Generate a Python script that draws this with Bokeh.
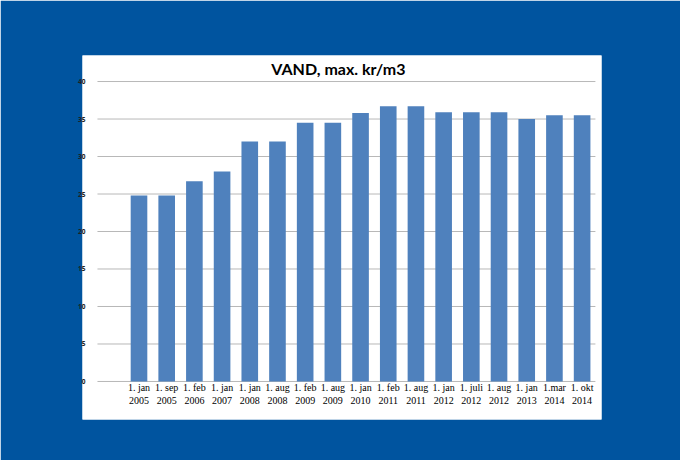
from bokeh.plotting import figure
from bokeh.models import FixedTicker, Range1d, Label
from bokeh.embed import file_html
from bokeh.resources import INLINE

title_text = "VAND, max. kr/m3"
dates = ["1. jan\n2005", "1. sep\n2005", "1. feb\n2006", "1. jan\n2007", "1. jan\n2008",
         "1. aug\n2008", "1. feb\n2009", "1. aug\n2009", "1. jan\n2010", "1. feb\n2011",
         "1. aug\n2011", "1. jan\n2012", "1. juli\n2012", "1. aug\n2012", "1. jan\n2013",
         "1.mar\n2014", "1. okt\n2014"]
prices = [24.8, 24.8, 26.7, 28.0, 32.0, 32.0, 34.5, 34.5, 35.8, 36.7, 36.7,
          35.9, 35.9, 35.9, 35.0, 35.5, 35.5]
y_ticks = [0, 5, 10, 15, 20, 25, 30, 35, 40]

x = list(range(1, len(dates) + 1))

BLUE = "#00549f"

# frame = white panel; plot area lies inside it
p = figure(width=680, height=460, output_backend="svg", toolbar_location=None,
           x_range=Range1d(-1.04, 17.70), y_range=Range1d(-5.07, 43.47),
           min_border_left=82, min_border_right=79, min_border_top=55, min_border_bottom=41,
           border_fill_color=BLUE, background_fill_color="white", outline_line_color=None)

# chart title inside the white panel
p.add_layout(Label(x=8.20, y=41.73, text=title_text, text_align="center",
                   text_baseline="alphabetic", text_font="Lato", text_font_style="bold",
                   text_font_size="16px", text_color="black"))

# gridlines across the plot area only
x_lo, x_hi = -0.50, 17.48
n = len(y_ticks)
p.segment(x0=[x_lo] * n, y0=y_ticks, x1=[x_hi] * n, y1=y_ticks,
          line_color="#b8b8b8", line_width=1)

p.vbar(x=x, top=prices, bottom=0, width=0.6, fill_color="#4f81bd", line_color=None)

p.xgrid.grid_line_color = None
p.ygrid.grid_line_color = None

p.yaxis.ticker = FixedTicker(ticks=y_ticks)
p.yaxis.axis_line_color = None
p.yaxis.major_tick_line_color = None
p.yaxis.minor_tick_line_color = None
p.yaxis.major_label_text_font = "Open Sans"
p.yaxis.major_label_text_font_size = "6.5px"
p.yaxis.major_label_text_font_style = "bold"
p.yaxis.major_label_text_color = "#222222"
p.yaxis.major_label_standoff = -9

p.xaxis.ticker = FixedTicker(ticks=x)
p.xaxis.major_label_overrides = {i: d for i, d in zip(x, dates)}
p.xaxis.axis_line_color = None
p.xaxis.major_tick_line_color = None
p.xaxis.minor_tick_line_color = None
p.xaxis.major_label_text_font = "Liberation Serif"
p.xaxis.major_label_text_font_size = "10px"
p.xaxis.major_label_text_color = "black"
p.xaxis.major_label_standoff = -44

open("out.html", "w").write(file_html(p, INLINE))
